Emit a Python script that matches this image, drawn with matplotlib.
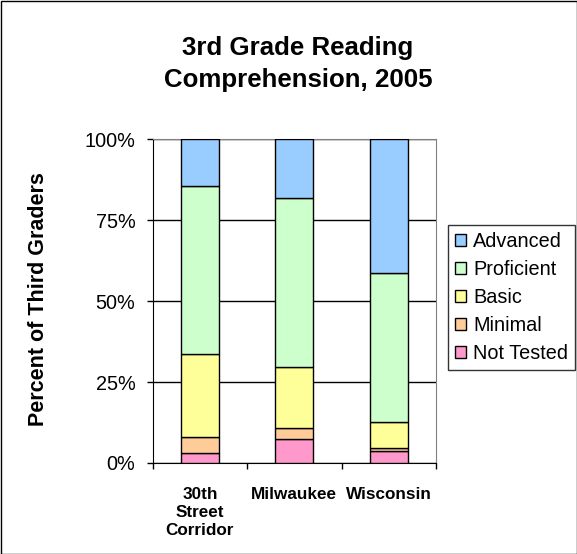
import matplotlib
matplotlib.use("Agg")
import matplotlib.pyplot as plt
from matplotlib.patches import Rectangle
import numpy as np

plt.rcParams['font.family'] = ['Liberation Sans', 'DejaVu Sans']

categories = ["30th\nStreet\nCorridor", "Milwaukee", "Wisconsin"]
series_names = ["Not Tested", "Minimal", "Basic", "Proficient", "Advanced"]
not_tested = [3.2, 7.5, 3.6]
minimal = [4.8, 3.4, 0.9]
basic = [25.7, 18.8, 8.2]
proficient = [51.9, 52.3, 46.0]
advanced = [14.4, 18.0, 41.3]
colors = ["#FF99CC", "#FFCC99", "#FFFF99", "#CCFFCC", "#99CCFF"]
yticks = [0, 25, 50, 75, 100]
ytick_labels = ["0%", "25%", "50%", "75%", "100%"]

W, H = 577, 554
fig = plt.figure(figsize=(W/100, H/100), dpi=100)
ax = fig.add_axes([152.7/W, 1-463/H, (436-152.7)/W, (463-139.3)/H])

x = np.arange(len(categories))
bottom = np.zeros(len(categories))
handles = []
for name, vals, c in zip(series_names, [not_tested, minimal, basic, proficient, advanced], colors):
    b = ax.bar(x, vals, bottom=bottom, width=0.4, color=c, edgecolor="black", linewidth=1.0, zorder=3, label=name)
    handles.append(b)
    bottom += np.array(vals)

ax.set_xlim(-0.5, 2.5)
ax.set_ylim(0, 100)
ax.set_yticks(yticks)
ax.set_yticklabels(ytick_labels, fontsize=14.3)
ax.yaxis.grid(True, color="black", linewidth=1.0, zorder=0)
ax.set_axisbelow(True)

ax.set_xticks([-0.5, 0.5, 1.5, 2.5])
ax.set_xticklabels([])
ax.set_xticks(x, minor=True)
ax.set_xticklabels(categories, minor=True, fontsize=12.3, fontweight="bold", linespacing=1.25)
ax.tick_params(axis="x", which="minor", length=0, pad=17)
ax.tick_params(axis="x", which="major", direction="out", length=4, width=1, color="black")
ax.tick_params(axis="y", direction="out", length=4.5, width=1, color="black", pad=8)
for lab in ax.get_xticklabels(minor=True):
    lab.set_verticalalignment("top")

ax.spines["left"].set_color("black")
ax.spines["bottom"].set_color("black")
ax.spines["top"].set_color("#808080")
ax.spines["right"].set_color("#808080")

fig.text(39/W, 1-299.5/H, "Percent of Third Graders", rotation=90, ha="center", va="center",
         fontsize=15.5, fontweight="bold")

fig.text(298/W, 1-55.5/H, "3rd Grade Reading", ha="center", va="baseline",
         fontsize=18.6, fontweight="bold")
fig.text(298/W, 1-87.5/H, "Comprehension, 2005", ha="center", va="baseline",
         fontsize=18.6, fontweight="bold")

leg = fig.legend(handles[::-1], series_names[::-1], loc="upper left",
                 bbox_to_anchor=(448/W, 1-225/H), fontsize=14.3, frameon=True,
                 fancybox=False, edgecolor="black", handlelength=0.56, handleheight=0.56,
                 handletextpad=0.35, borderpad=0.35, labelspacing=0.45, borderaxespad=0)
leg.get_frame().set_linewidth(1.0)

fig.patches.append(Rectangle((0.5/W, 0.5/H), 1-1/W, 1-1/H, transform=fig.transFigure,
                             fill=False, edgecolor="black", linewidth=1.0))

fig.savefig("out.png", dpi=100)
